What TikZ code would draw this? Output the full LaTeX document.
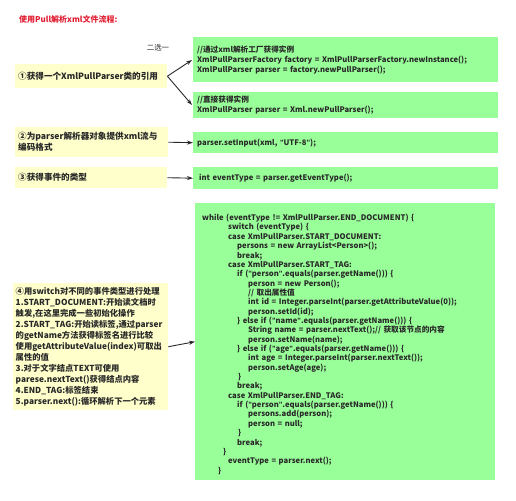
\documentclass[tikz,border=0pt]{standalone}
\usepackage{fontspec}
\usetikzlibrary{arrows.meta}
\setmainfont{Noto Sans CJK SC}
\newfontfamily\qfont{Liberation Sans}
\newcommand\dq{{\qfont\bfseries"}}
\newcommand\nolsl{\lineskiplimit=-20pt\relax\parskip=0pt\relax}
\definecolor{ybox}{RGB}{255,255,204}
\definecolor{gbox}{RGB}{153,255,153}
\definecolor{titlered}{RGB}{225,30,50}
\definecolor{ink}{RGB}{40,40,40}
\begin{document}
\begin{tikzpicture}[x=1pt,y=-1pt,
  ynode/.style={fill=ybox,draw=none,inner xsep=3pt,inner ysep=0pt,anchor=north west,align=left,text=ink,font=\fontsize{8.6}{11}\selectfont\bfseries\nolsl},
  gnode/.style={fill=gbox,draw=none,inner xsep=4pt,inner ysep=0pt,anchor=north west,align=left,text=ink,font=\fontsize{7.65}{10.1}\selectfont\bfseries\nolsl},
  arr/.style={-{Stealth[length=6pt,width=4pt]},draw=ink,line width=0.9pt}]
\useasboundingbox (0,0) rectangle (516,500);
\node[anchor=west,text=titlered,font=\fontsize{8}{10}\selectfont\bfseries,inner sep=0pt] (title) at (19,19) {使用Pull解析xml文件流程:};
\node[anchor=center,text=ink,font=\fontsize{7.4}{9}\selectfont,inner sep=0pt] (choose) at (158,48) {二选一};
% yellow boxes
\node[ynode,minimum width=152pt,minimum height=24pt,text width=146pt] (b1) at (15,64) {①获得一个XmlPullParser类的引用};
\node[ynode,minimum width=153pt,minimum height=30pt,text width=147pt] (b2) at (15,127) {②为parser解析器对象提供xml流与\\编码格式};
\node[ynode,minimum width=152pt,minimum height=21pt,text width=146pt] (b3) at (15,167) {③获得事件的类型};
\node[ynode,minimum width=155pt,minimum height=127pt,text width=150pt,inner xsep=2.5pt,font=\fontsize{8.3}{11}\selectfont\bfseries\nolsl] (b4) at (13,283) {④用switch对不同的事件类型进行处理\\1.START\_DOCUMENT:开始读文档时\\触发,在这里完成一些初始化操作\\2.START\_TAG:开始读标签,通过parser\\的getName方法获得标签名进行比较\\使用getAttributeValue(index)可取出\\属性的值\\3.对于文字结点TEXT可使用\\parese.nextText()获得结点内容\\4.END\_TAG:标签结束\\5.parser.next():循环解析下一个元素};
% green boxes
\node[gnode,minimum width=305pt,minimum height=45pt,text width=297pt] (gA) at (193,37) {//通过xml解析工厂获得实例\\XmlPullParserFactory factory = XmlPullParserFactory.newInstance();\\XmlPullParser parser = factory.newPullParser();};
\node[gnode,minimum width=305pt,minimum height=26pt,text width=297pt] (gB) at (193,92) {//直接获得实例\\XmlPullParser parser = Xml.newPullParser();};
\node[gnode,minimum width=305pt,minimum height=21pt,text width=297pt] (gC) at (193,132) {parser.setInput(xml, \dq UTF-8\dq);};
\node[gnode,minimum width=305pt,minimum height=22pt,text width=297pt] (gD) at (193,167) {\hspace*{2pt}int eventType = parser.getEventType();};
\node[gnode,minimum width=300pt,minimum height=277pt] (gE) at (195,203) {};
\node[gnode,fill=none,text width=294pt,inner xsep=0pt,font=\fontsize{7.65}{9.35}\selectfont\bfseries\nolsl] (code) at (199,214) {%
\hspace*{3pt}while (eventType != XmlPullParser.END\_DOCUMENT) \{\\
\hspace*{29pt}switch (eventType) \{\\
\hspace*{29pt}case XmlPullParser.START\_DOCUMENT:\\
\hspace*{38pt}persons = new ArrayList<Person>();\\
\hspace*{38pt}break;\\
\hspace*{29pt}case XmlPullParser.START\_TAG:\\
\hspace*{38pt}if (\dq person\dq.equals(parser.getName())) \{\\
\hspace*{49pt}person = new Person();\\
\hspace*{49pt}// 取出属性值\\
\hspace*{49pt}int id = Integer.parseInt(parser.getAttributeValue(0));\\
\hspace*{49pt}person.setId(id);\\
\hspace*{38pt}\} else if (\dq name\dq.equals(parser.getName())) \{\\
\hspace*{49pt}String name = parser.nextText();// 获取该节点的内容\\
\hspace*{49pt}person.setName(name);\\
\hspace*{38pt}\} else if (\dq age\dq.equals(parser.getName())) \{\\
\hspace*{49pt}int age = Integer.parseInt(parser.nextText());\\
\hspace*{49pt}person.setAge(age);\\
\hspace*{39pt}\}\\
\hspace*{38pt}break;\\
\hspace*{29pt}case XmlPullParser.END\_TAG:\\
\hspace*{38pt}if (\dq person\dq.equals(parser.getName())) \{\\
\hspace*{49pt}persons.add(person);\\
\hspace*{49pt}person = null;\\
\hspace*{39pt}\}\\
\hspace*{38pt}break;\\
\hspace*{24pt}\}\\
\hspace*{29pt}eventType = parser.next();\\
\hspace*{19pt}\}};
% arrows
\coordinate (tipA) at (192,60);
\coordinate (tipB) at (192,105);
\draw[arr] (b1.east) -- (tipA);
\draw[arr] (b1.east) -- (tipB);
\draw[arr] (b2.east) -- (gC.west);
\draw[arr] (b3.east) -- (gD.west);
\draw[arr] (b4.east) -- (gE.west);
\end{tikzpicture}
\end{document}
